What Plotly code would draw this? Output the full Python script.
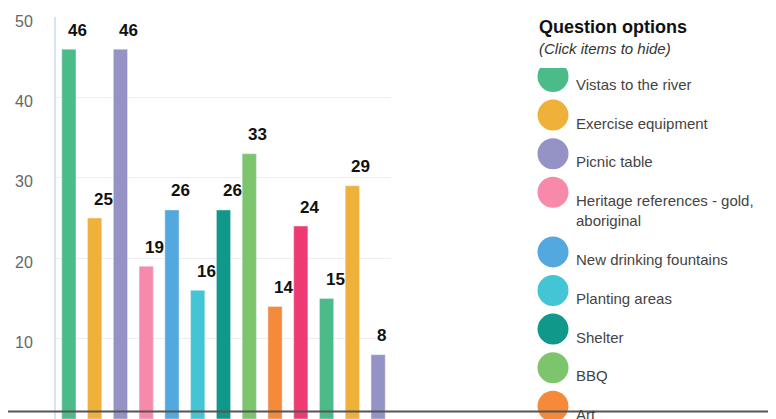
import textwrap
import plotly.graph_objects as go

# ---------------- data ----------------
option_no = list(range(1, 14))
counts = [46, 25, 46, 19, 26, 16, 26, 33, 14, 24, 15, 29, 8]
palette = ["#4cbb8a", "#f0b13b", "#9593c6", "#f78aab", "#53a9df",
           "#44c5d5", "#10998a", "#7dc56c", "#f68a3b", "#ef3972"]
legend_names = ["Vistas to the river", "Exercise equipment", "Picnic table",
                "Heritage references - gold, aboriginal", "New drinking fountains",
                "Planting areas", "Shelter", "BBQ", "Art"]
y_ticks = [10, 20, 30, 40, 50]

colors = [palette[i % len(palette)] for i in range(len(counts))]

# ---------------- layout geometry ----------------
OFF = 8                      # page body margin
W, H = 776 - OFF, 419 - OFF
L, R, T, B = 56 - OFF, 776 - 391, 17 - OFF, 0
PW, PH = W - L - R, H - T - B
FONT = "Liberation Sans, Arial, Helvetica, sans-serif"


def px(x):
    return (x - OFF - L) / PW


def py(y):
    return (H - B - (y - OFF)) / PH


fig = go.Figure(go.Bar(
    x=option_no, y=counts, marker_color=colors, width=0.55,
    showlegend=False, hoverinfo="skip"))

annotations = []
for x, v in zip(option_no, counts):
    annotations.append(dict(
        x=x, y=v, xref="x", yref="y", text=f"<b>{v}</b>", showarrow=False,
        xanchor="left", yanchor="middle", xshift=-3, yshift=19,
        font=dict(family=FONT, size=17, color="#111")))

# legend title
annotations.append(dict(x=px(537), y=py(27), xref="paper", yref="paper",
                        text="<b>Question options</b>", showarrow=False,
                        xanchor="left", yanchor="middle",
                        font=dict(family=FONT, size=18, color="#111")))
annotations.append(dict(x=px(537), y=py(48), xref="paper", yref="paper",
                        text="<i>(Click items to hide)</i>", showarrow=False,
                        xanchor="left", yanchor="middle",
                        font=dict(family=FONT, size=15, color="#333")))

shapes = []
cy = 76.5
for i, name in enumerate(legend_names):
    lines = textwrap.wrap(name, 27)
    shapes.append(dict(type="circle", xref="paper", yref="paper",
                       xsizemode="pixel", ysizemode="pixel",
                       xanchor=px(553), yanchor=py(cy),
                       x0=-15.5, x1=15.5, y0=-15.5, y1=15.5,
                       fillcolor=palette[i % len(palette)], line_width=0))
    annotations.append(dict(x=px(574), y=py(cy + 8 + (len(lines) - 1) * 10.5),
                            xref="paper", yref="paper",
                            text="<br>".join(lines), showarrow=False,
                            xanchor="left", yanchor="middle", align="left",
                            font=dict(family=FONT, size=15, color="#444")))
    cy += 38.6 + (len(lines) - 1) * 21

# clip of scrolled legend area
shapes.append(dict(type="rect", xref="paper", yref="paper",
                   x0=px(530), x1=px(580), y0=py(68), y1=py(55),
                   fillcolor="white", line_width=0))
# dark horizontal rule near the bottom
shapes.append(dict(type="line", xref="paper", yref="paper",
                   x0=px(0), x1=px(776), y0=py(411.5), y1=py(411.5),
                   line=dict(color="#555", width=2)))

fig.update_layout(
    width=W, height=H, margin=dict(l=L, r=R, t=T, b=B),
    paper_bgcolor="white", plot_bgcolor="white",
    bargap=0.45, showlegend=False,
    annotations=annotations, shapes=shapes,
    font=dict(family=FONT),
)
fig.update_xaxes(range=[0.5, 13.5], showticklabels=False, showgrid=False,
                 zeroline=False, showline=False, ticks="")
fig.update_yaxes(range=[0, 50], tickvals=y_ticks, showgrid=True,
                 gridcolor="#eeeeee", gridwidth=1, zeroline=False,
                 showline=True, linecolor="#d6e4f0", linewidth=2,
                 ticks="", ticklabelstandoff=18, ticklabelshift=4,
                 tickfont=dict(family=FONT, size=16, color="#666"))

fig.write_html("out.html")
